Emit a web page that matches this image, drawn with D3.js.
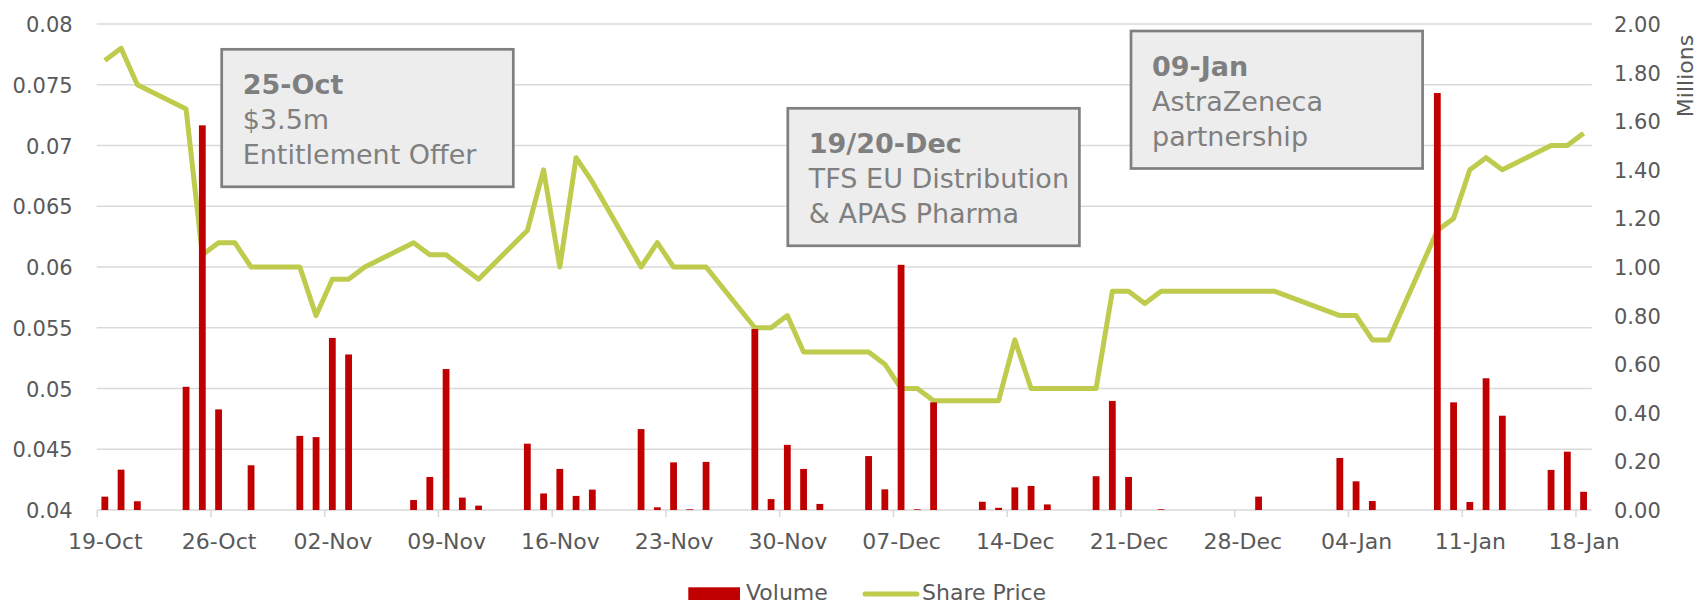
<!DOCTYPE html>
<html>
<head>
<meta charset="utf-8">
<script src="https://cdn.jsdelivr.net/npm/d3@7"></script>
<style>
  body { margin: 0; background: #fff; }
  svg { display: block; }
  text { font-family: "DejaVu Sans", sans-serif; }
</style>
</head>
<body>
<svg id="chart" width="1698" height="604"></svg>
<script>
// trading days, close price ($) and volume (millions of shares)
var tradeDates = ['2016-10-19','2016-10-20','2016-10-21','2016-10-24','2016-10-25','2016-10-26','2016-10-27','2016-10-28',
  '2016-10-31','2016-11-01','2016-11-02','2016-11-03','2016-11-04','2016-11-07','2016-11-08','2016-11-09','2016-11-10','2016-11-11',
  '2016-11-14','2016-11-15','2016-11-16','2016-11-17','2016-11-18','2016-11-21','2016-11-22','2016-11-23','2016-11-24','2016-11-25',
  '2016-11-28','2016-11-29','2016-11-30','2016-12-01','2016-12-02','2016-12-05','2016-12-06','2016-12-07','2016-12-08','2016-12-09',
  '2016-12-12','2016-12-13','2016-12-14','2016-12-15','2016-12-16','2016-12-19','2016-12-20','2016-12-21','2016-12-22','2016-12-23',
  '2016-12-28','2016-12-29','2016-12-30','2017-01-03','2017-01-04','2017-01-05','2017-01-06','2017-01-09','2017-01-10','2017-01-11',
  '2017-01-12','2017-01-13','2017-01-16','2017-01-17','2017-01-18'];
var sharePrice = [0.077,0.078,0.075,0.073,0.061,0.062,0.062,0.060,
  0.060,0.056,0.059,0.059,0.060,0.062,0.061,0.061,0.060,0.059,
  0.063,0.068,0.060,0.069,0.067,0.060,0.062,0.060,0.060,0.060,
  0.055,0.055,0.056,0.053,0.053,0.053,0.052,0.050,0.050,0.049,
  0.049,0.049,0.054,0.050,0.050,0.050,0.058,0.058,0.057,0.058,
  0.058,0.058,0.058,0.056,0.056,0.054,0.054,0.063,0.064,0.068,
  0.069,0.068,0.070,0.070,0.071];
var volume = [0.055,0.166,0.036,0.507,1.583,0.414,0,0.184,
  0.305,0.300,0.708,0.640,0,0.041,0.136,0.580,0.051,0.018,
  0.273,0.068,0.169,0.058,0.084,0.333,0.011,0.196,0.003,0.198,
  0.745,0.045,0.268,0.169,0.025,0.222,0.085,1.009,0.003,0.443,
  0.034,0.009,0.093,0.099,0.023,0.139,0.449,0.136,0,0.003,
  0,0.055,0,0.214,0.118,0.037,0,1.716,0.443,0.033,
  0.542,0.388,0.165,0.240,0.075];

var priceTicks = [0.04,0.045,0.05,0.055,0.06,0.065,0.07,0.075,0.08];
var priceLabels = ['0.04','0.045','0.05','0.055','0.06','0.065','0.07','0.075','0.08'];
var volumeTicks = [0,0.2,0.4,0.6,0.8,1.0,1.2,1.4,1.6,1.8,2.0];
var dateTicks = ['2016-10-19','2016-10-26','2016-11-02','2016-11-09','2016-11-16','2016-11-23','2016-11-30',
  '2016-12-07','2016-12-14','2016-12-21','2016-12-28','2017-01-04','2017-01-11','2017-01-18'];

var noteTitles = ['25-Oct','19/20-Dec','09-Jan'];
var noteLines = [['$3.5m','Entitlement Offer'],['TFS EU Distribution','& APAS Pharma'],['AstraZeneca','partnership']];

(function(){
  var plotL = 96.7, plotR = 1591.7, plotT = 24, plotB = 510;
  var textCol = '#595959', gridCol = '#d9d9d9';
  var barCol = '#c00000', lineCol = '#bfcb4d';

  var parse = d3.utcParse('%Y-%m-%d');
  var svg = d3.select('#chart');

  var x = d3.scaleUtc().domain([parse('2016-10-19'), parse('2017-01-19')]).range([plotL, plotR]);
  var day = x(parse('2016-10-20')) - x(parse('2016-10-19'));
  var yP = d3.scaleLinear().domain([0.04, 0.08]).range([plotB, plotT]);
  var yV = d3.scaleLinear().domain([0, 2]).range([plotB, plotT]);

  // gridlines
  svg.append('g').selectAll('line').data(priceTicks).enter().append('line')
    .attr('x1', plotL).attr('x2', plotR)
    .attr('y1', function(d){ return yP(d); }).attr('y2', function(d){ return yP(d); })
    .attr('stroke', gridCol).attr('stroke-width', 1.5);

  // left axis labels
  svg.append('g').selectAll('text').data(priceTicks).enter().append('text')
    .attr('x', 72.7).attr('y', function(d){ return yP(d) + 8; })
    .attr('text-anchor', 'end').attr('font-size', 21).attr('fill', textCol)
    .text(function(d, i){ return priceLabels[i]; });

  // right axis labels
  svg.append('g').selectAll('text').data(volumeTicks).enter().append('text')
    .attr('x', 1614).attr('y', function(d){ return yV(d) + 8; })
    .attr('font-size', 21).attr('fill', textCol)
    .text(function(d){ return d3.format('.2f')(d); });

  svg.append('text').attr('transform', 'translate(1693,76) rotate(-90)')
    .attr('text-anchor', 'middle').attr('font-size', 22).attr('fill', textCol).text('Millions');

  // x axis
  var xAxis = d3.axisBottom(x).tickValues(dateTicks.map(parse)).tickSize(7)
    .tickFormat(d3.utcFormat('%d-%b'));
  var gx = svg.append('g').attr('transform', 'translate(0,' + plotB + ')').call(xAxis);
  gx.select('.domain').remove();
  gx.selectAll('.tick line').attr('stroke', gridCol).attr('stroke-width', 1.5);
  gx.selectAll('.tick text').attr('x', day / 2).attr('y', 39).attr('dy', 0)
    .attr('font-size', 22).attr('fill', textCol).attr('font-family', '"DejaVu Sans", sans-serif');

  // share price line
  var pts = tradeDates.map(function(d, i){ return {date: parse(d), price: sharePrice[i], vol: volume[i]}; });
  var line = d3.line().x(function(d){ return x(d.date) + day / 2; }).y(function(d){ return yP(d.price); });
  svg.append('path').datum(pts).attr('d', line)
    .attr('fill', 'none').attr('stroke', lineCol).attr('stroke-width', 5).attr('stroke-linejoin', 'round');

  // volume bars (secondary axis, drawn on top)
  var bw = 6.8;
  svg.append('g').selectAll('rect').data(pts).enter().append('rect')
    .attr('x', function(d){ return x(d.date) + day / 2 - bw / 2; })
    .attr('width', bw)
    .attr('y', function(d){ return yV(d.vol); })
    .attr('height', function(d){ return plotB - yV(d.vol); })
    .attr('fill', barCol);

  // annotation boxes
  var boxX = [221.7, 787.8, 1131], boxY = [49.3, 108.3, 31];
  var notes = svg.append('g').selectAll('g').data(noteTitles).enter().append('g')
    .attr('transform', function(d, i){ return 'translate(' + boxX[i] + ',' + boxY[i] + ')'; });
  notes.append('rect').attr('width', 291.6).attr('height', 137.5)
    .attr('fill', '#ededed').attr('stroke', '#7f7f7f').attr('stroke-width', 2.7);
  notes.append('text').attr('x', 21).attr('y', 44.5)
    .attr('font-size', 27).attr('font-weight', 'bold').attr('fill', '#7f7f7f')
    .text(function(d){ return d; });
  notes.each(function(d, i){
    d3.select(this).selectAll('text.sub').data(noteLines[i]).enter().append('text')
      .attr('class', 'sub').attr('x', 21).attr('y', function(t, j){ return 80 + j * 34.5; })
      .attr('font-size', 27).attr('fill', '#7f7f7f').text(function(t){ return t; });
  });

  // legend
  var lg = svg.append('g');
  lg.append('rect').attr('x', 688.3).attr('y', 587.3).attr('width', 51.7).attr('height', 12.7).attr('fill', barCol);
  lg.append('text').attr('x', 746).attr('y', 600).attr('font-size', 22).attr('fill', textCol).text('Volume');
  lg.append('line').attr('x1', 865).attr('x2', 917).attr('y1', 594).attr('y2', 594)
    .attr('stroke', lineCol).attr('stroke-width', 5).attr('stroke-linecap', 'round');
  lg.append('text').attr('x', 922).attr('y', 600).attr('font-size', 22).attr('fill', textCol).text('Share Price');
})();
</script>
</body>
</html>
